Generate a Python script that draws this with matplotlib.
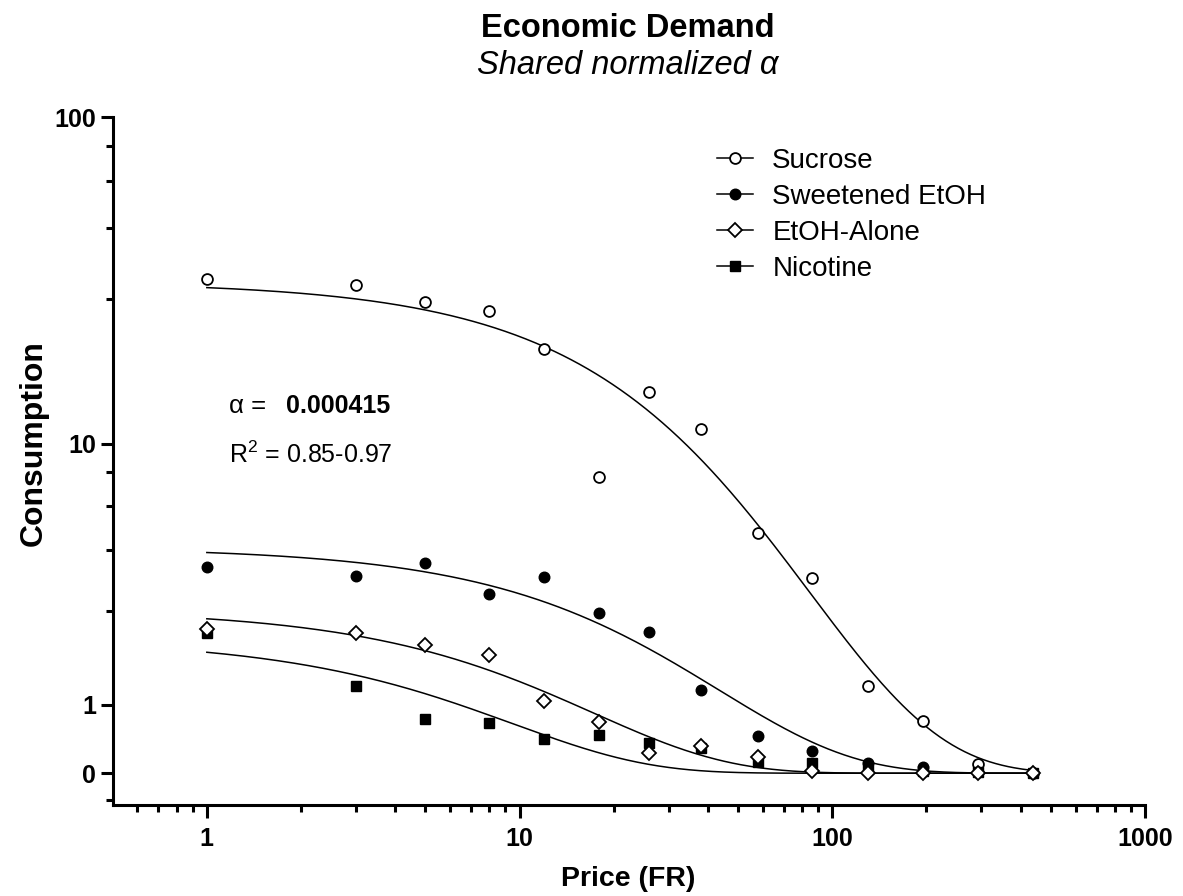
import numpy as np
import matplotlib
matplotlib.use("Agg")
import matplotlib.pyplot as plt
from matplotlib.lines import Line2D

plt.rcParams['font.family'] = ['Liberation Sans', 'DejaVu Sans']
plt.rcParams['mathtext.fontset'] = 'custom'
plt.rcParams['mathtext.rm'] = 'Liberation Sans'
plt.rcParams['mathtext.it'] = 'Liberation Sans:italic'
plt.rcParams['mathtext.bf'] = 'Liberation Sans:bold'

# ---------------- data ----------------
price = [1, 3, 5, 8, 12, 18, 26, 38, 58, 86, 130, 195, 292, 438]
sucrose = [32.2, 30.8, 27.3, 25.6, 19.6, 7.9, 14.5, 11.1, 5.2, 3.7, 1.31, 0.75, 0.13, 0.0]
sweetened = [4.03, 3.75, 4.14, 3.23, 3.71, 2.75, 2.33, 1.24, 0.53, 0.32, 0.15, 0.09, 0.02, 0.0]
etoh_alone = [2.38, 2.30, 2.06, 1.86, 1.06, 0.73, 0.29, 0.385, 0.225, 0.036, 0.0, 0.0, 0.0, 0.0]
nicotine = [2.31, 1.31, 0.78, 0.72, 0.49, 0.545, 0.43, 0.36, 0.163, 0.141, 0.084, 0.036, 0.014, 0.0]

series_names = ['Sucrose', 'Sweetened EtOH', 'EtOH-Alone', 'Nicotine']
# fitted demand-curve parameters
fit_q0 = [31.5, 4.68, 2.84, 2.18]
fit_rate = [0.0118, 0.023, 0.058, 0.105]
fit_price_range = [1, 438]

y_major = [0, 1, 10, 100]
y_minor = [-0.38, 2.8, 4.6, 6.4, 8.2, 28, 46, 64, 82]
x_major = [1, 10, 100, 1000]
alpha_text = '0.000415'
r2_text = '0.85-0.97'

# ---------------- scale (IHS, log10-like) ----------------
LN10 = np.log(10)
def fwd(y):
    return np.arcsinh(np.asarray(y, dtype=float) / 2.0) / LN10
def inv(t):
    return 2.0 * np.sinh(np.asarray(t, dtype=float) * LN10)

W, H = 1183, 896
fig = plt.figure(figsize=(W / 100, H / 100), dpi=100)
L, R, T, B = 112.7, 1145, 117.5, 805
ax = fig.add_axes([L / W, 1 - B / H, (R - L) / W, (B - T) / H])

ax.set_xscale('log')
ax.set_yscale('function', functions=(fwd, inv))
ax.set_xlim(0.5, 1000)
ax.set_ylim(-0.45, 100)

# fitted curves
cgrid = np.logspace(np.log10(fit_price_range[0]), np.log10(fit_price_range[1]), 400)
for q0, r in zip(fit_q0, fit_rate):
    t = fwd(q0) * np.exp(-r * cgrid)
    ax.plot(cgrid, inv(t), color='black', lw=1.1, zorder=2)

styles = {
    'Sucrose': dict(marker='o', ms=7.8, mfc='white', mec='black', mew=1.3),
    'Sweetened EtOH': dict(marker='o', ms=7.6, mfc='black', mec='black', mew=1.0),
    'EtOH-Alone': dict(marker='D', ms=7.4, mfc='white', mec='black', mew=1.3),
    'Nicotine': dict(marker='s', ms=7.2, mfc='black', mec='black', mew=1.0),
}
data = {'Sucrose': sucrose, 'Sweetened EtOH': sweetened,
        'EtOH-Alone': etoh_alone, 'Nicotine': nicotine}
zorders = {'Sucrose': 3, 'Sweetened EtOH': 4, 'Nicotine': 5, 'EtOH-Alone': 6}
for name in series_names:
    ax.plot(price, data[name], ls='none', zorder=zorders[name], clip_on=False,
            **styles[name])

# axes styling
for s in ['top', 'right']:
    ax.spines[s].set_visible(False)
for s in ['left', 'bottom']:
    ax.spines[s].set_linewidth(2.2)
ax.set_yticks(y_major)
ax.set_yticklabels([str(v) for v in y_major])
ax.set_yticks(y_minor, minor=True)
ax.set_xticks(x_major)
ax.set_xticklabels([str(v) for v in x_major])
xminor = [m * 10.0 ** e for e in range(-1, 3) for m in range(2, 10) if 0.55 < m * 10.0 ** e < 1000]
ax.set_xticks(xminor, minor=True)
ax.xaxis.set_minor_formatter(matplotlib.ticker.NullFormatter())
ax.yaxis.set_minor_formatter(matplotlib.ticker.NullFormatter())
ax.tick_params(which='major', length=9, width=2.2, direction='out')
ax.tick_params(which='minor', length=5, width=2.2, direction='out')
ax.tick_params(axis='y', which='major', pad=3)
ax.tick_params(axis='x', which='major', pad=7)
for lab in ax.get_xticklabels() + ax.get_yticklabels():
    lab.set_fontsize(18)
    lab.set_fontweight('bold')

# titles and labels
fig.text(628 / W, 1 - 36.7 / H, 'Economic Demand', ha='center', va='baseline',
         fontsize=23.5, fontweight='bold')
fig.text(628 / W, 1 - 74 / H, 'Shared normalized α', ha='center', va='baseline',
         fontsize=23.5, style='italic')
fig.text(34 / W, 1 - 443 / H, 'Consumption', rotation=90, ha='center', va='center',
         fontsize=23, fontweight='bold')
fig.text(628 / W, 1 - 886 / H, 'Price (FR)', ha='center', va='baseline',
         fontsize=20.5, fontweight='bold')

# annotations
fig.text(229.3 / W, 1 - 413.3 / H, 'α = ', ha='left', va='baseline', fontsize=18.5)
fig.text(286 / W, 1 - 413.3 / H, alpha_text, ha='left', va='baseline', fontsize=18,
         fontweight='bold')
fig.text(229.3 / W, 1 - 462.7 / H, r'R$^{2}$ = ' + r2_text, ha='left', va='baseline',
         fontsize=18)

# legend
handles = [Line2D([0], [0], color='black', lw=1.1, **styles[n]) for n in series_names]
leg = fig.legend(handles, series_names, loc='upper left',
                 bbox_to_anchor=(716.7 / W, 1 - 148 / H), frameon=False,
                 fontsize=20, handlelength=1.3, handletextpad=0.7,
                 labelspacing=0.36, borderpad=0, borderaxespad=0)

fig.savefig('out.png', dpi=100)
